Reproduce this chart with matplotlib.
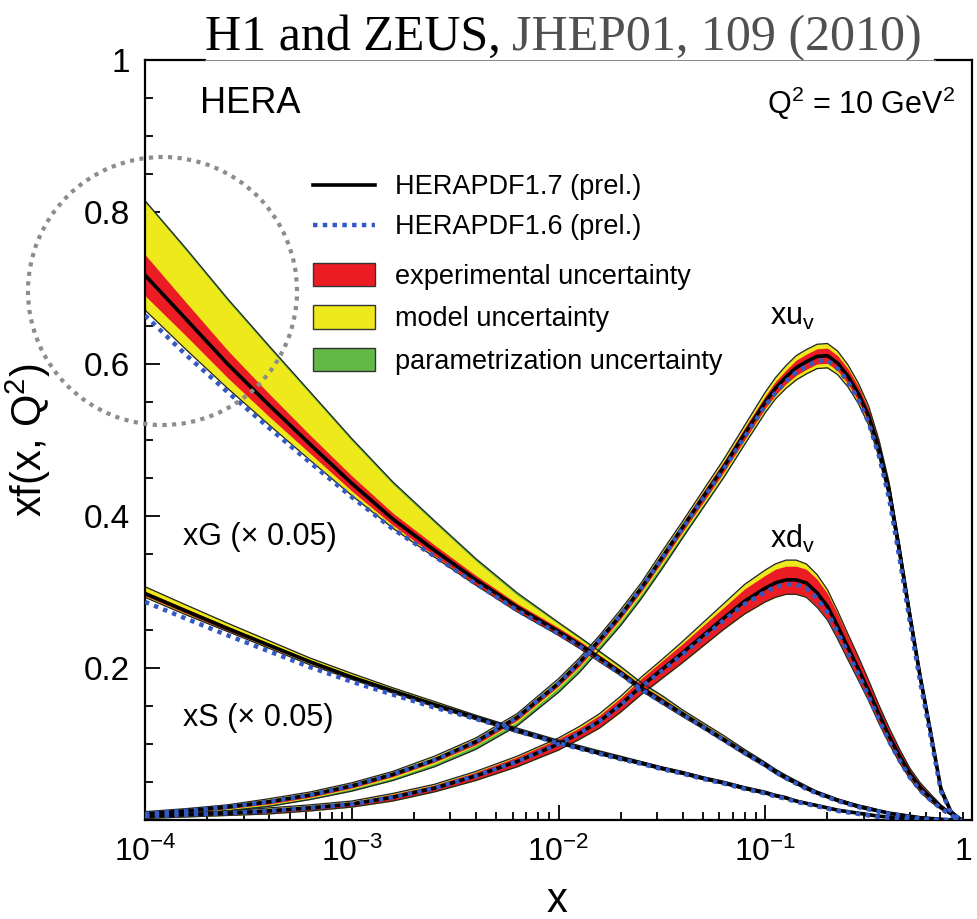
import numpy as np
import matplotlib.pyplot as plt
from matplotlib.lines import Line2D
from matplotlib.patches import Patch, Ellipse
from matplotlib.ticker import LogLocator, MultipleLocator, NullFormatter

plt.rcParams['font.family'] = ['Liberation Sans', 'DejaVu Sans']
plt.rcParams['mathtext.fontset'] = 'custom'
plt.rcParams['mathtext.rm'] = 'Liberation Sans'
plt.rcParams['mathtext.it'] = 'Liberation Sans:italic'

# x grid shared by all PDFs: 0.2-decade steps to 0.01, then 0.1, then 0.05 above x = 0.1
x = [1e-4, 1.58e-4, 2.51e-4, 3.98e-4, 6.31e-4, 1e-3, 1.58e-3, 2.51e-3, 3.98e-3,
     6.31e-3, 0.01,
     0.0126, 0.0158, 0.02, 0.0251, 0.0316, 0.0398, 0.0501, 0.0631, 0.0794,
     0.1, 0.112, 0.126, 0.141, 0.158, 0.178, 0.2, 0.224, 0.251, 0.282,
     0.316, 0.355, 0.398, 0.447, 0.501, 0.562, 0.631, 0.708, 0.794, 0.891]

# gluon (x 0.05)
xg = [0.717, 0.659, 0.600, 0.546, 0.494, 0.443, 0.396, 0.355, 0.316, 0.280, 0.248,
      0.231, 0.213, 0.194, 0.174, 0.157, 0.140, 0.123, 0.106, 0.089,
      0.073, 0.064, 0.056, 0.049, 0.042, 0.036, 0.031, 0.026, 0.022, 0.018,
      0.015, 0.012, 0.009, 0.007, 0.005, 0.003, 0.002, 0.001, 0.0, 0.0]
xg_exp = [0.027, 0.022, 0.018, 0.015, 0.012, 0.010, 0.008, 0.007, 0.006, 0.005, 0.005,
          0.005, 0.004, 0.004, 0.004, 0.004, 0.003, 0.003, 0.003, 0.003,
          0.003, 0.002, 0.002, 0.002, 0.002, 0.002, 0.002, 0.002, 0.002, 0.001,
          0.001, 0.001, 0.001, 0.001, 0.001, 0.001, 0.001, 0.0, 0.0, 0.0]
xg_mod_hi = [0.096, 0.090, 0.083, 0.075, 0.066, 0.056, 0.046, 0.036, 0.025, 0.016, 0.010,
             0.008, 0.007, 0.006, 0.005, 0.005, 0.004, 0.004, 0.004, 0.003,
             0.003, 0.003, 0.003, 0.003, 0.003, 0.002, 0.002, 0.002, 0.002, 0.002,
             0.002, 0.001, 0.001, 0.001, 0.001, 0.001, 0.001, 0.0, 0.0, 0.0]
xg_mod_lo = [0.046, 0.040, 0.032, 0.026, 0.021, 0.016, 0.012, 0.009, 0.007, 0.006, 0.005,
             0.005, 0.005, 0.004, 0.004, 0.004, 0.004, 0.003, 0.003, 0.003,
             0.003, 0.003, 0.003, 0.002, 0.002, 0.002, 0.002, 0.002, 0.002, 0.002,
             0.002, 0.001, 0.001, 0.001, 0.001, 0.001, 0.001, 0.0, 0.0, 0.0]
xg_par_hi = [0.002, 0.003, 0.003, 0.003, 0.003, 0.003, 0.003, 0.003, 0.003, 0.003, 0.002,
             0.002, 0.002, 0.002, 0.002, 0.002, 0.001, 0.001, 0.001, 0.001,
             0.0, 0.0, 0.0, 0.0, 0.0, 0.0, 0.0, 0.0, 0.0, 0.0,
             0.0, 0.0, 0.0, 0.0, 0.0, 0.0, 0.0, 0.0, 0.0, 0.0]
xg_old = [0.664, 0.612, 0.563, 0.516, 0.470, 0.425, 0.383, 0.347, 0.311, 0.276, 0.245,
          0.229, 0.211, 0.192, 0.172, 0.155, 0.139, 0.122, 0.105, 0.088,
          0.072, 0.063, 0.055, 0.048, 0.041, 0.035, 0.030, 0.025, 0.021, 0.017,
          0.014, 0.011, 0.008, 0.006, 0.004, 0.002, 0.001, 0.0, 0.0, 0.0]

# sea (x 0.05)
xs = [0.298, 0.275, 0.252, 0.230, 0.208, 0.188, 0.170, 0.152, 0.135, 0.118, 0.102,
      0.095, 0.088, 0.081, 0.075, 0.068, 0.062, 0.055, 0.049, 0.042,
      0.036, 0.032, 0.029, 0.025, 0.022, 0.019, 0.016, 0.013, 0.011, 0.009,
      0.007, 0.005, 0.004, 0.003, 0.002, 0.001, 0.001, 0.0, 0.0, 0.0]
xs_exp = [0.003, 0.003, 0.003, 0.002, 0.002, 0.002, 0.002, 0.002, 0.002, 0.002, 0.002,
          0.002, 0.002, 0.001, 0.001, 0.001, 0.001, 0.001, 0.001, 0.001,
          0.001, 0.001, 0.001, 0.001, 0.001, 0.001, 0.001, 0.001, 0.001, 0.001,
          0.001, 0.0, 0.0, 0.0, 0.0, 0.0, 0.0, 0.0, 0.0, 0.0]
xs_mod_hi = [0.009, 0.008, 0.007, 0.006, 0.005, 0.005, 0.004, 0.004, 0.003, 0.003, 0.003,
             0.003, 0.003, 0.003, 0.002, 0.002, 0.002, 0.002, 0.002, 0.002,
             0.002, 0.002, 0.002, 0.001, 0.001, 0.001, 0.001, 0.001, 0.001, 0.001,
             0.001, 0.001, 0.001, 0.0, 0.0, 0.0, 0.0, 0.0, 0.0, 0.0]
xs_mod_lo = [0.005, 0.005, 0.004, 0.004, 0.004, 0.003, 0.003, 0.003, 0.003, 0.003, 0.002,
             0.002, 0.002, 0.002, 0.002, 0.002, 0.002, 0.002, 0.002, 0.002,
             0.002, 0.001, 0.001, 0.001, 0.001, 0.001, 0.001, 0.001, 0.001, 0.001,
             0.001, 0.001, 0.001, 0.0, 0.0, 0.0, 0.0, 0.0, 0.0, 0.0]
xs_old = [0.287, 0.265, 0.243, 0.222, 0.201, 0.182, 0.165, 0.148, 0.133, 0.117, 0.101,
          0.094, 0.087, 0.080, 0.074, 0.067, 0.061, 0.054, 0.048, 0.041,
          0.035, 0.031, 0.028, 0.024, 0.021, 0.018, 0.015, 0.012, 0.010, 0.008,
          0.006, 0.004, 0.003, 0.002, 0.001, 0.0, 0.0, 0.0, 0.0, 0.0]

# u valence
xuv = [0.008, 0.012, 0.017, 0.024, 0.033, 0.045, 0.060, 0.079, 0.103, 0.135, 0.180,
       0.207, 0.237, 0.270, 0.305, 0.345, 0.385, 0.425, 0.465, 0.508,
       0.550, 0.568, 0.583, 0.595, 0.603, 0.610, 0.611, 0.601, 0.584, 0.561,
       0.532, 0.488, 0.432, 0.352, 0.268, 0.188, 0.115, 0.040, 0.010, 0.0]
xuv_exp = [0.002, 0.002, 0.002, 0.003, 0.003, 0.003, 0.003, 0.003, 0.004, 0.004, 0.004,
           0.005, 0.005, 0.005, 0.005, 0.006, 0.006, 0.007, 0.007, 0.008,
           0.008, 0.009, 0.009, 0.010, 0.010, 0.010, 0.010, 0.010, 0.010, 0.010,
           0.009, 0.009, 0.008, 0.008, 0.007, 0.006, 0.005, 0.004, 0.002, 0.0]
xuv_mod_hi = [0.003, 0.003, 0.003, 0.004, 0.004, 0.004, 0.004, 0.005, 0.005, 0.005, 0.006,
              0.006, 0.006, 0.007, 0.007, 0.008, 0.008, 0.009, 0.010, 0.011,
              0.013, 0.014, 0.015, 0.016, 0.016, 0.016, 0.016, 0.016, 0.015, 0.014,
              0.013, 0.012, 0.011, 0.010, 0.009, 0.007, 0.006, 0.005, 0.003, 0.0]
xuv_mod_lo = [0.003, 0.003, 0.003, 0.004, 0.004, 0.004, 0.005, 0.005, 0.005, 0.006, 0.006,
              0.007, 0.007, 0.008, 0.008, 0.009, 0.009, 0.010, 0.011, 0.012,
              0.013, 0.014, 0.015, 0.016, 0.016, 0.016, 0.016, 0.015, 0.014, 0.013,
              0.012, 0.011, 0.010, 0.009, 0.008, 0.007, 0.006, 0.005, 0.003, 0.0]
xuv_par_lo = [0.001, 0.001, 0.002, 0.002, 0.002, 0.003, 0.003, 0.004, 0.005, 0.005, 0.006,
              0.006, 0.006, 0.006, 0.006, 0.006, 0.005, 0.004, 0.003, 0.002,
              0.001, 0.0, 0.0, 0.0, 0.0, 0.0, 0.0, 0.0, 0.0, 0.0,
              0.0, 0.0, 0.0, 0.0, 0.0, 0.0, 0.0, 0.0, 0.0, 0.0]
xuv_old = [0.008, 0.012, 0.017, 0.024, 0.033, 0.045, 0.060, 0.079, 0.103, 0.135, 0.180,
           0.207, 0.237, 0.270, 0.305, 0.344, 0.384, 0.423, 0.462, 0.504,
           0.545, 0.562, 0.577, 0.589, 0.597, 0.604, 0.605, 0.594, 0.577, 0.553,
           0.523, 0.479, 0.422, 0.343, 0.260, 0.181, 0.110, 0.038, 0.009, 0.0]

# d valence
xdv = [0.005, 0.007, 0.009, 0.012, 0.016, 0.021, 0.030, 0.042, 0.058, 0.077, 0.100,
       0.114, 0.130, 0.152, 0.176, 0.198, 0.220, 0.243, 0.266, 0.288,
       0.305, 0.312, 0.316, 0.316, 0.312, 0.299, 0.281, 0.255, 0.227, 0.199,
       0.170, 0.139, 0.110, 0.084, 0.061, 0.043, 0.029, 0.017, 0.008, 0.0]
xdv_exp = [0.002, 0.002, 0.002, 0.003, 0.003, 0.003, 0.004, 0.004, 0.005, 0.006, 0.007,
           0.007, 0.008, 0.009, 0.010, 0.011, 0.012, 0.013, 0.014, 0.016,
           0.017, 0.018, 0.018, 0.018, 0.018, 0.018, 0.017, 0.016, 0.015, 0.014,
           0.012, 0.011, 0.009, 0.008, 0.006, 0.005, 0.004, 0.002, 0.001, 0.0]
xdv_mod_hi = [0.003, 0.003, 0.003, 0.004, 0.004, 0.004, 0.005, 0.005, 0.006, 0.007, 0.008,
              0.009, 0.010, 0.011, 0.012, 0.013, 0.015, 0.017, 0.019, 0.022,
              0.024, 0.025, 0.026, 0.026, 0.025, 0.024, 0.022, 0.020, 0.018, 0.016,
              0.014, 0.012, 0.011, 0.009, 0.007, 0.006, 0.005, 0.003, 0.001, 0.0]
xdv_mod_lo = [0.003, 0.003, 0.003, 0.004, 0.004, 0.004, 0.005, 0.005, 0.006, 0.007, 0.008,
              0.008, 0.009, 0.010, 0.011, 0.012, 0.013, 0.014, 0.015, 0.017,
              0.018, 0.019, 0.019, 0.019, 0.019, 0.019, 0.018, 0.017, 0.016, 0.015,
              0.013, 0.012, 0.010, 0.009, 0.007, 0.006, 0.005, 0.003, 0.001, 0.0]
xdv_old = [0.005, 0.007, 0.009, 0.012, 0.016, 0.021, 0.030, 0.042, 0.058, 0.077, 0.100,
           0.114, 0.130, 0.151, 0.175, 0.196, 0.218, 0.240, 0.263, 0.284,
           0.300, 0.307, 0.310, 0.310, 0.305, 0.292, 0.273, 0.247, 0.220, 0.192,
           0.163, 0.132, 0.103, 0.078, 0.056, 0.039, 0.026, 0.015, 0.006, 0.0]

x_ticks = [1e-4, 1e-3, 1e-2, 1e-1, 1]
x_tick_labels = [r'$\mathregular{10^{-4}}$', r'$\mathregular{10^{-3}}$',
                 r'$\mathregular{10^{-2}}$', r'$\mathregular{10^{-1}}$', '1']
y_ticks = [0.2, 0.4, 0.6, 0.8, 1.0]
y_tick_labels = ['0.2', '0.4', '0.6', '0.8', '1']

RED = '#ec1c24'
YELLOW = '#eee91a'
GREEN = '#62b946'
BLUE = '#3459c4'
DOTS = (0, (1, 1.2))


def draw_pdf(ax, cen, exp, mod_hi, mod_lo, old, par_hi=None, par_lo=None):
    c = np.array(cen)
    exp, mod_hi, mod_lo = np.array(exp), np.array(mod_hi), np.array(mod_lo)
    tot_hi = mod_hi + (np.array(par_hi) if par_hi is not None else 0)
    tot_lo = mod_lo + (np.array(par_lo) if par_lo is not None else 0)
    ax.fill_between(x, c - tot_lo, c + tot_hi, color=GREEN, lw=0, zorder=2)
    ax.fill_between(x, c - mod_lo, c + mod_hi, color=YELLOW, lw=0, zorder=2.1)
    ax.fill_between(x, c - exp, c + exp, color=RED, lw=0, zorder=2.2)
    ax.plot(x, c + tot_hi, color='#222222', lw=0.9, zorder=2.3)
    ax.plot(x, c - tot_lo, color='#222222', lw=0.9, zorder=2.3)
    ax.plot(x, c, color='black', lw=2.6, zorder=3)
    ax.plot(x, old, color=BLUE, lw=3.2, ls=DOTS, zorder=4)


fig = plt.figure(figsize=(9.77, 9.19), dpi=100)
ax = fig.add_axes([0.1484, 0.1077, 0.8465, 0.8270])

draw_pdf(ax, xg, xg_exp, xg_mod_hi, xg_mod_lo, xg_old, par_hi=xg_par_hi)
draw_pdf(ax, xs, xs_exp, xs_mod_hi, xs_mod_lo, xs_old)
draw_pdf(ax, xuv, xuv_exp, xuv_mod_hi, xuv_mod_lo, xuv_old, par_lo=xuv_par_lo)
draw_pdf(ax, xdv, xdv_exp, xdv_mod_hi, xdv_mod_lo, xdv_old)

ax.set_xscale('log')
ax.set_xlim(1e-4, 1)
ax.set_ylim(0, 1)
ax.set_xticks(x_ticks, x_tick_labels)
ax.get_xticklabels()[-1].set_horizontalalignment('right')
ax.xaxis.set_minor_locator(LogLocator(base=10, subs=np.arange(2, 10)))
ax.xaxis.set_minor_formatter(NullFormatter())
ax.set_yticks(y_ticks, y_tick_labels)
ax.yaxis.set_minor_locator(MultipleLocator(0.05))
ax.tick_params(which='both', direction='in', top=False, right=False, width=1.3)
ax.tick_params(which='major', length=11)
ax.tick_params(which='minor', length=6)
ax.tick_params(axis='y', labelsize=24, pad=11)
ax.tick_params(axis='x', labelsize=23, pad=12)
for side in ['left', 'right', 'bottom']:
    ax.spines[side].set_linewidth(1.6)
ax.spines['top'].set_visible(False)
# top frame: heavy ends, light segment under the citation
ax.plot([0, 0.073], [1, 1], color='black', lw=1.6, transform=ax.transAxes, clip_on=False)
ax.plot([0.955, 1], [1, 1], color='black', lw=1.6, transform=ax.transAxes, clip_on=False)
ax.plot([0.073, 0.955], [1, 1], color='#888888', lw=0.7, transform=ax.transAxes, clip_on=False)

ax.set_xlabel('x', fontsize=30)
ax.xaxis.set_label_coords(0.498, -0.08)
ax.set_ylabel(r'xf(x, Q$\mathregular{^2}$)', fontsize=30)
ax.yaxis.set_label_coords(-0.111, 0.5)

ax.text(0.066, 0.943, 'HERA', fontsize=26, transform=ax.transAxes, va='center')
ax.text(0.979, 0.943, r'Q$\mathregular{^2}$ = 10 GeV$\mathregular{^2}$', fontsize=22,
        transform=ax.transAxes, va='center', ha='right')
ax.text(0.046, 0.372, 'xG (× 0.05)', fontsize=22, transform=ax.transAxes, va='center')
ax.text(0.046, 0.134, 'xS (× 0.05)', fontsize=22, transform=ax.transAxes, va='center')
ax.text(0.756, 0.662, r'xu$\mathregular{_v}$', fontsize=22, transform=ax.transAxes, va='center')
ax.text(0.756, 0.370, r'xd$\mathregular{_v}$', fontsize=22, transform=ax.transAxes, va='center')

line_handles = [Line2D([], [], color='black', lw=2.6),
                Line2D([], [], color=BLUE, lw=3.2, ls=DOTS)]
leg1 = ax.legend(line_handles, ['HERAPDF1.7 (prel.)', 'HERAPDF1.6 (prel.)'],
                 loc='upper left', bbox_to_anchor=(0.203, 0.850), frameon=False,
                 fontsize=19.5, handlelength=2.3, handletextpad=0.75,
                 labelspacing=0.52, borderpad=0, borderaxespad=0)
ax.add_artist(leg1)
patch_handles = [Patch(fc=RED, ec='#333333', lw=1),
                 Patch(fc=YELLOW, ec='#333333', lw=1),
                 Patch(fc=GREEN, ec='#333333', lw=1)]
ax.legend(patch_handles, ['experimental uncertainty', 'model uncertainty',
                          'parametrization uncertainty'],
          loc='upper left', bbox_to_anchor=(0.203, 0.733), frameon=False,
          fontsize=19.5, handlelength=2.3, handleheight=0.95, handletextpad=0.75,
          labelspacing=0.57, borderpad=0, borderaxespad=0)

# dotted highlight circle around the low-x gluon
fig.add_artist(Ellipse((1.625, 6.28), 2.69, 2.68, transform=fig.dpi_scale_trans,
                       fill=False, ec='#8c8c8c', lw=3, ls=(0, (1, 1.3)), zorder=10))

fig.text(205 / 977, 1 - 50 / 919, 'H1 and ZEUS,', family='Liberation Serif',
         fontsize=36, color='black', ha='left', va='baseline')
fig.text(922 / 977, 1 - 50 / 919, 'JHEP01, 109 (2010)', family='Liberation Serif',
         fontsize=36, color='#505050', ha='right', va='baseline')

fig.savefig('out.png', dpi=100)
